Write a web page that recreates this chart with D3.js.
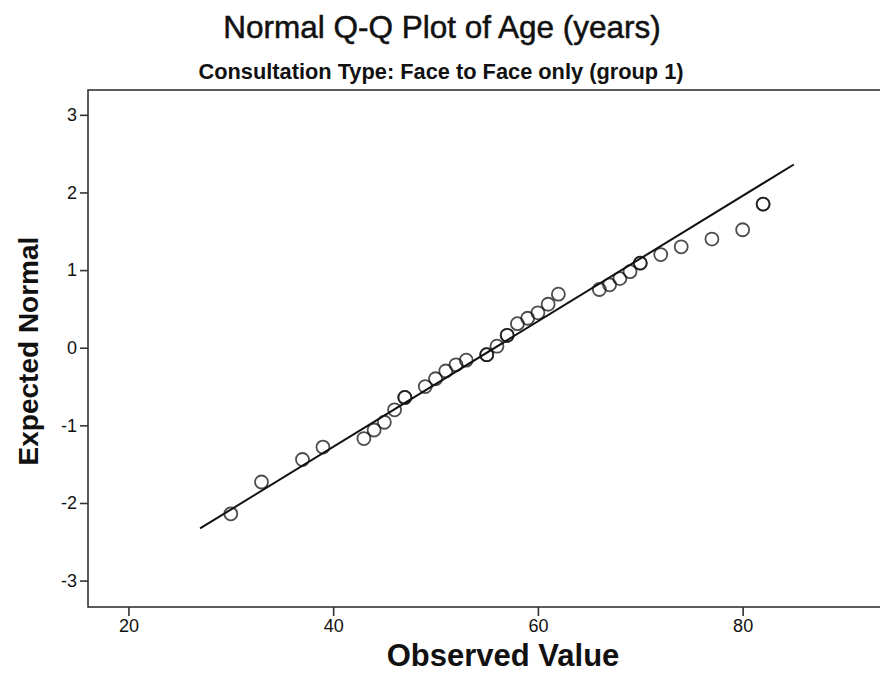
<!DOCTYPE html>
<html>
<head>
<meta charset="utf-8">
<script src="https://cdn.jsdelivr.net/npm/d3@7"></script>
<style>
  body { margin: 0; background: #fff; }
  text { font-family: "Liberation Sans", Arial, sans-serif; fill: #111; }
</style>
</head>
<body>
<div id="qq"></div>
<script>
// observed ages (years) and their expected normal scores
const observed = [30, 33, 37, 39, 43, 44, 45, 46, 47, 49, 50, 51, 52, 53, 55, 56,
  57, 58, 59, 60, 61, 62, 66, 67, 68, 69, 70, 72, 74, 77, 80, 82];
const expected = [-2.14, -1.73, -1.44, -1.28, -1.17, -1.06, -0.96, -0.80, -0.64, -0.50,
  -0.40, -0.30, -0.22, -0.16, -0.09, 0.02, 0.16, 0.31, 0.38, 0.45, 0.56, 0.69,
  0.75, 0.81, 0.89, 0.98, 1.09, 1.20, 1.30, 1.40, 1.52, 1.85];
// number of cases sitting on each marker (ties overlap)
const cases = [1, 1, 1, 1, 1, 1, 1, 1, 2, 1, 1, 1, 1, 1, 2, 1,
  2, 1, 1, 1, 1, 1, 1, 1, 1, 1, 2, 1, 1, 1, 1, 2];

// reference line: z = (x - mean) / sd, drawn from min-3 to max+3
const ageMean = 55.8;
const ageSd = 12.37;
const lineX = [27, 85];

const xTicks = [20, 40, 60, 80];
const yTicks = [-3, -2, -1, 0, 1, 2, 3];

const titleText = 'Normal Q-Q Plot of Age (years)';
const subtitleText = 'Consultation Type: Face to Face only (group 1)';
const xLabel = 'Observed Value';
const yLabel = 'Expected Normal';

const width = 880, height = 692;
const plot = { left: 88, top: 90, right: 888, bottom: 607 };

const x = d3.scaleLinear().domain([16.05, 94.2]).range([plot.left, plot.right]);
const y = d3.scaleLinear().domain([-3.34, 3.32]).range([plot.bottom, plot.top]);

const svg = d3.select('#qq').append('svg')
  .attr('width', width)
  .attr('height', height);

// titles
svg.append('text')
  .attr('x', 442).attr('y', 38)
  .attr('text-anchor', 'middle')
  .style('font-size', '31.5px')
  .style('stroke', '#111')
  .style('stroke-width', 0.5)
  .text(titleText);

svg.append('text')
  .attr('x', 441).attr('y', 79)
  .attr('text-anchor', 'middle')
  .style('font-size', '21.8px')
  .style('font-weight', 'bold')
  .text(subtitleText);

// frame
svg.append('rect')
  .attr('x', plot.left).attr('y', plot.top)
  .attr('width', plot.right - plot.left)
  .attr('height', plot.bottom - plot.top)
  .attr('fill', 'none')
  .attr('stroke', '#333')
  .attr('stroke-width', 1.6);

// axes (SPSS prints a plain hyphen for negatives)
const fmt = d => String(d);

const xAxis = svg.append('g')
  .attr('transform', 'translate(0,' + plot.bottom + ')')
  .call(d3.axisBottom(x).tickValues(xTicks).tickSize(9).tickPadding(3).tickFormat(fmt));

const yAxis = svg.append('g')
  .attr('transform', 'translate(' + plot.left + ',0)')
  .call(d3.axisLeft(y).tickValues(yTicks).tickSize(8).tickPadding(3).tickFormat(fmt));

[xAxis, yAxis].forEach(g => {
  g.select('.domain').remove();
  g.selectAll('line').attr('stroke', '#333').attr('stroke-width', 1.6);
  g.selectAll('text')
    .style('font-family', '"Liberation Sans", Arial, sans-serif')
    .style('font-size', '18px')
    .attr('fill', '#222');
});

// axis titles
svg.append('text')
  .attr('x', 503).attr('y', 666)
  .attr('text-anchor', 'middle')
  .style('font-size', '31px')
  .style('font-weight', 'bold')
  .text(xLabel);

svg.append('text')
  .attr('transform', 'translate(38,351) rotate(-90)')
  .attr('text-anchor', 'middle')
  .style('font-size', '28px')
  .style('font-weight', 'bold')
  .text(yLabel);

// reference line
svg.append('line')
  .attr('x1', x(lineX[0])).attr('y1', y((lineX[0] - ageMean) / ageSd))
  .attr('x2', x(lineX[1])).attr('y2', y((lineX[1] - ageMean) / ageSd))
  .attr('stroke', '#111')
  .attr('stroke-width', 2);

// one circle per case so tied values print darker
const points = [];
observed.forEach((v, i) => {
  for (let k = 0; k < cases[i]; k++) points.push({ obs: v, exp: expected[i] });
});

svg.selectAll('circle.pt')
  .data(points)
  .enter().append('circle')
  .attr('class', 'pt')
  .attr('cx', d => x(d.obs))
  .attr('cy', d => y(d.exp))
  .attr('r', 6.5)
  .attr('fill', 'none')
  .attr('stroke', '#111')
  .attr('stroke-opacity', 0.75)
  .attr('stroke-width', 1.8);
</script>
</body>
</html>
